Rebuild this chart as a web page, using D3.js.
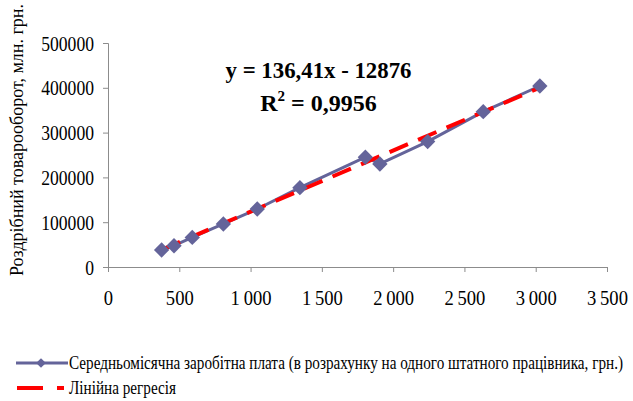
<!DOCTYPE html>
<html>
<head>
<meta charset="utf-8">
<script src="https://cdn.jsdelivr.net/npm/d3@7"></script>
</head>
<body style="margin:0; background:#fff">
<div id="viz-container"></div>
<script>
// average monthly wage (грн.) vs retail turnover (млн. грн.)
var wages = [376, 463, 591, 809, 1047, 1346, 1805, 1907, 2242, 2632, 3029];
var turnover = [38000, 47500, 66000, 96000, 129500, 177000, 245000, 230000, 280000, 346700, 404000];
var xTicks = [0, 500, 1000, 1500, 2000, 2500, 3000, 3500];
var yTicks = [0, 100000, 200000, 300000, 400000, 500000];
var slope = 136.41, intercept = -12876;

const width = 633, height = 401;
const serif = '"Liberation Serif"';

const svg = d3.select('#viz-container')
    .append("svg")
    .attr("width", width)
    .attr("height", height);

const x = d3.scaleLinear().domain([0, 3500]).range([108, 607]);
const y = d3.scaleLinear().domain([0, 500000]).range([267, 43]);

const axisColor = "#8c8c8c";

// squeeze a text horizontally, the original is a bit narrow
function squeeze(sel, k) {
    sel.each(function () {
        const len = this.getComputedTextLength();
        d3.select(this).attr("textLength", len * k).attr("lengthAdjust", "spacingAndGlyphs");
    });
}

// y axis
const yAxis = svg.append("g")
    .attr("transform", "translate(108,0)")
    .call(d3.axisLeft(y).tickValues(yTicks).tickSize(5).tickPadding(9).tickFormat(d3.format("d")));
yAxis.selectAll("text")
    .style("font-family", serif).style("font-size", "20px")
    .attr("fill", "#000").attr("dy", "0.35em")
    .call(squeeze, 0.88);

// x axis
const fmt = d => d >= 1000 ? Math.floor(d / 1000) + "\u2009" + String(d % 1000).padStart(3, "0") : String(d);
const xAxis = svg.append("g")
    .attr("transform", "translate(0,267)")
    .call(d3.axisBottom(x).tickValues(xTicks).tickSize(5).tickPadding(19).tickFormat(fmt));
xAxis.selectAll("text")
    .style("font-family", serif).style("font-size", "20px")
    .attr("fill", "#000")
    .call(squeeze, 0.93);

svg.selectAll(".domain, .tick line").attr("stroke", axisColor);

// data line
const pts = wages.map((w, i) => [w, turnover[i]]);
const line = d3.line().x(d => x(d[0])).y(d => y(d[1]));
const blue = "#64649a";

svg.append("path")
    .datum(pts)
    .attr("d", line)
    .attr("fill", "none")
    .attr("stroke", blue)
    .attr("stroke-width", 3);

// regression line
const xr = d3.extent(wages);
svg.append("path")
    .datum(xr.map(v => [v, slope * v + intercept]))
    .attr("d", line)
    .attr("fill", "none")
    .attr("stroke", "#ff0000")
    .attr("stroke-width", 4)
    .attr("stroke-dasharray", "20,11");

const diamond = d3.symbol().type(d3.symbolDiamond2).size(150);
svg.append("g")
    .selectAll("path")
    .data(pts)
    .join("path")
    .attr("d", diamond)
    .attr("transform", d => `translate(${x(d[0])},${y(d[1])})`)
    .attr("fill", blue);

// equation text
svg.append("text")
    .attr("x", 318.5).attr("y", 78)
    .attr("text-anchor", "middle")
    .style("font-family", serif).style("font-size", "24px").style("font-weight", "bold")
    .text("y = 136,41x - 12876")
    .call(squeeze, 0.95);
const r2 = svg.append("text")
    .attr("x", 318.5).attr("y", 111)
    .attr("text-anchor", "middle")
    .style("font-family", serif).style("font-size", "24px").style("font-weight", "bold");
r2.append("tspan").text("R");
r2.append("tspan").style("font-size", "15px").attr("dy", -10).text("2");
r2.append("tspan").attr("dy", 10).text(" = 0,9956");

// y axis title
svg.append("text")
    .attr("transform", "translate(23,140) rotate(-90)")
    .attr("text-anchor", "middle")
    .style("font-family", serif).style("font-size", "18px")
    .text("Роздрібний товарооборот, млн. грн.");

// legend
const lg = svg.append("g");
lg.append("line").attr("x1", 16).attr("x2", 68).attr("y1", 363).attr("y2", 363)
    .attr("stroke", blue).attr("stroke-width", 3);
lg.append("path").attr("d", d3.symbol().type(d3.symbolDiamond2).size(60))
    .attr("transform", "translate(41,363)").attr("fill", blue);
lg.append("text").attr("x", 69).attr("y", 369)
    .style("font-family", serif).style("font-size", "18px")
    .attr("textLength", 554).attr("lengthAdjust", "spacingAndGlyphs")
    .text("Середньомісячна заробітна плата (в розрахунку на одного штатного працівника, грн.)");
lg.append("line").attr("x1", 17).attr("x2", 64).attr("y1", 388).attr("y2", 388)
    .attr("stroke", "#ff0000").attr("stroke-width", 4).attr("stroke-dasharray", "26,14");
lg.append("text").attr("x", 69).attr("y", 394)
    .style("font-family", serif).style("font-size", "18px")
    .attr("textLength", 107).attr("lengthAdjust", "spacingAndGlyphs")
    .text("Лінійна регресія");
</script>
</body>
</html>
